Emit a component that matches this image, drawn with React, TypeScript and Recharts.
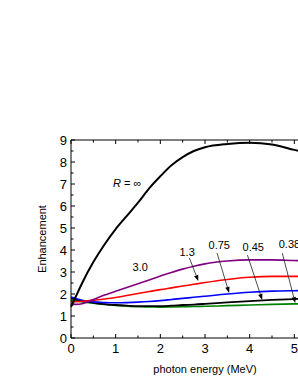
import { ComposedChart, Line, XAxis, YAxis, ReferenceLine, ReferenceDot } from 'recharts'

const energy = [0, 0.1, 0.25, 0.5, 0.75, 1, 1.25, 1.5, 1.75, 2, 2.25, 2.5, 2.75, 3, 3.5, 4, 4.5, 5, 5.5]
const rInf = [1.42, 1.85, 2.5, 3.45, 4.25, 4.95, 5.55, 6.15, 6.8, 7.35, 7.85, 8.22, 8.5, 8.67, 8.82, 8.88, 8.8, 8.55, 8.3]
const r30 = [1.55, 1.53, 1.56, 1.75, 1.95, 2.13, 2.3, 2.47, 2.64, 2.82, 2.98, 3.13, 3.26, 3.37, 3.5, 3.55, 3.55, 3.52, 3.5]
const r13 = [1.65, 1.65, 1.67, 1.71, 1.77, 1.84, 1.93, 2.02, 2.11, 2.2, 2.28, 2.36, 2.44, 2.52, 2.66, 2.76, 2.8, 2.8, 2.8]
const r075 = [1.86, 1.8, 1.72, 1.64, 1.61, 1.6, 1.61, 1.63, 1.66, 1.7, 1.75, 1.8, 1.85, 1.9, 2.0, 2.08, 2.13, 2.15, 2.16]
const r045 = [1.8, 1.75, 1.68, 1.6, 1.54, 1.5, 1.47, 1.45, 1.45, 1.45, 1.47, 1.5, 1.52, 1.55, 1.62, 1.68, 1.73, 1.77, 1.8]
const r038 = [1.72, 1.69, 1.64, 1.58, 1.52, 1.48, 1.45, 1.42, 1.41, 1.4, 1.41, 1.42, 1.43, 1.44, 1.47, 1.5, 1.53, 1.55, 1.57]

const xTicks = [0, 0.5, 1, 1.5, 2, 2.5, 3, 3.5, 4, 4.5, 5, 5.5, 6]
const yTicks = [0, 0.5, 1, 1.5, 2, 2.5, 3, 3.5, 4, 4.5, 5, 5.5, 6, 6.5, 7, 7.5, 8, 8.5, 9]

// curve labels (data units)
const labels = [
  { text: '3.0', x: 1.55, y: 3.23 },
  { text: '1.3', x: 2.6, y: 3.9 },
  { text: '0.75', x: 3.32, y: 4.23 },
  { text: '0.45', x: 4.08, y: 4.14 },
  { text: '0.38', x: 4.89, y: 4.27 },
]

// arrows from label to curve: [x1, y1, x2, y2]
const arrows = [
  [2.65, 3.64, 2.85, 2.59],
  [3.27, 3.86, 3.54, 2.05],
  [3.95, 3.77, 4.28, 1.73],
  [4.73, 3.86, 5.02, 1.59],
]

const data = energy.map((e, i) => ({
  e,
  rInf: rInf[i],
  r30: r30[i],
  r13: r13[i],
  r075: r075[i],
  r045: r045[i],
  r038: r038[i],
}))

const font = 'Liberation Sans, Arial, sans-serif'

const isMajor = (v: number) => Number.isInteger(v)

function BottomTick({ x, payload }: any) {
  const major = isMajor(payload.value)
  const y = 338
  return (
    <g>
      <line x1={x} x2={x} y1={y} y2={y - (major ? 4 : 2.5)} stroke="#000" />
      {major && (
        <text x={x} y={y + 15} textAnchor="middle" fontSize={13} fontFamily={font} fill="#000">
          {payload.value}
        </text>
      )}
    </g>
  )
}

function TopTick({ x, payload }: any) {
  const major = isMajor(payload.value)
  const y = 140
  return <line x1={x} x2={x} y1={y} y2={y + (major ? 4 : 2.5)} stroke="#000" />
}

function LeftTick({ y, payload }: any) {
  const major = isMajor(payload.value)
  const x = 71
  return (
    <g>
      <line x1={x} x2={x + (major ? 4 : 2.5)} y1={y} y2={y} stroke="#000" />
      {major && (
        <text x={x - 4} y={y + 4.5} textAnchor="end" fontSize={13} fontFamily={font} fill="#000">
          {payload.value}
        </text>
      )}
    </g>
  )
}

function RightTick({ y, payload }: any) {
  const major = isMajor(payload.value)
  const x = 339
  return <line x1={x} x2={x - (major ? 4 : 2.5)} y1={y} y2={y} stroke="#000" />
}

function Arrow(props: any) {
  const { x1, y1, x2, y2 } = props
  const ang = Math.atan2(y2 - y1, x2 - x1)
  const len = 6
  const w = 2.2
  const bx = x2 - len * Math.cos(ang)
  const by = y2 - len * Math.sin(ang)
  const px = -Math.sin(ang) * w
  const py = Math.cos(ang) * w
  return (
    <g>
      <line x1={x1} y1={y1} x2={bx} y2={by} stroke="#000" strokeWidth={0.7} />
      <polygon points={`${x2},${y2} ${bx + px},${by + py} ${bx - px},${by - py}`} fill="#000" />
    </g>
  )
}

function App() {
  return (
    <div style={{ position: 'absolute', left: 0, top: 0, width: 298, height: 385, overflow: 'hidden', background: '#fff' }}>
      <ComposedChart
        width={360}
        height={385}
        data={data}
        margin={{ top: 120, right: 1, bottom: 27, left: 51 }}
      >
        <XAxis
          dataKey="e"
          type="number"
          domain={[0, 6]}
          ticks={xTicks}
          interval={0}
          height={20}
          tickSize={0}
          tickLine={false}
          axisLine={{ stroke: '#000' }}
          tick={<BottomTick />}
          label={{
            content: () => (
              <text x={205} y={373} textAnchor="middle" fontSize={11} fontFamily={font} fill="#000">
                photon energy (MeV)
              </text>
            ),
          }}
        />
        <XAxis
          xAxisId="top"
          orientation="top"
          type="number"
          dataKey="e"
          domain={[0, 6]}
          ticks={xTicks}
          interval={0}
          height={20}
          tickSize={0}
          tickLine={false}
          axisLine={{ stroke: '#000' }}
          tick={<TopTick />}
        />
        <YAxis
          type="number"
          domain={[0, 9]}
          ticks={yTicks}
          interval={0}
          width={20}
          tickSize={0}
          tickLine={false}
          axisLine={{ stroke: '#000' }}
          tick={<LeftTick />}
          label={{
            content: () => (
              <text
                x={46}
                y={239}
                transform="rotate(-90 46 239)"
                textAnchor="middle"
                fontSize={11}
                fontFamily={font}
                fill="#000"
              >
                Enhancement
              </text>
            ),
          }}
        />
        <YAxis
          yAxisId="right"
          orientation="right"
          type="number"
          domain={[0, 9]}
          ticks={yTicks}
          interval={0}
          width={20}
          tickSize={0}
          tickLine={false}
          axisLine={{ stroke: '#000' }}
          tick={<RightTick />}
        />

        <Line type="monotone" dataKey="r038" stroke="#008000" strokeWidth={1.6} dot={false} isAnimationActive={false} />
        <Line type="monotone" dataKey="r045" stroke="#000000" strokeWidth={1.8} dot={false} isAnimationActive={false} />
        <Line type="monotone" dataKey="r075" stroke="#0000ff" strokeWidth={1.6} dot={false} isAnimationActive={false} />
        <Line type="monotone" dataKey="r13" stroke="#ff0000" strokeWidth={1.6} dot={false} isAnimationActive={false} />
        <Line type="monotone" dataKey="r30" stroke="#800080" strokeWidth={1.6} dot={false} isAnimationActive={false} />
        <Line type="monotone" dataKey="rInf" stroke="#000000" strokeWidth={2} dot={false} isAnimationActive={false} />

        {arrows.map((a, i) => (
          <ReferenceLine
            key={'a' + i}
            segment={[{ x: a[0], y: a[1] }, { x: a[2], y: a[3] }]}
            shape={<Arrow />}
          />
        ))}

        {labels.map((l) => (
          <ReferenceDot
            key={l.text}
            x={l.x}
            y={l.y}
            r={0}
            shape={(p: any) => (
              <text x={p.cx} y={p.cy + 4} textAnchor="middle" fontSize={11} fontFamily={font} fill="#000">
                {l.text}
              </text>
            )}
          />
        ))}
        <ReferenceDot
          x={1.26}
          y={7.05}
          r={0}
          shape={(p: any) => (
            <text x={p.cx} y={p.cy + 4} textAnchor="middle" fontSize={11} fontFamily={font} fill="#000">
              <tspan fontStyle="italic">R</tspan> = ∞
            </text>
          )}
        />
      </ComposedChart>
    </div>
  )
}

export default App
